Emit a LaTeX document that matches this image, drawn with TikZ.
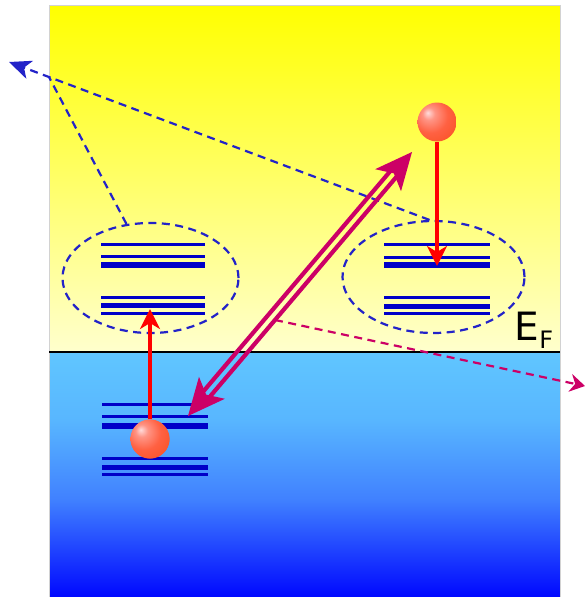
\documentclass[tikz,border=0pt]{standalone}
\usepackage{fontspec}
\newfontfamily\efont{DejaVu Sans}
\usetikzlibrary{arrows.meta,shapes.geometric,calc}
\definecolor{lvl}{RGB}{0,0,200}
\definecolor{dblue}{RGB}{35,35,200}
\definecolor{mag}{RGB}{204,0,102}
\definecolor{yelTop}{RGB}{255,255,0}
\definecolor{yelBot}{RGB}{255,255,205}
\definecolor{blA}{RGB}{96,198,255}
\definecolor{blB}{RGB}{88,182,255}
\definecolor{blC}{RGB}{64,128,255}
\definecolor{blD}{RGB}{0,8,255}
\pgfdeclareradialshading{myball}{\pgfpoint{-12bp}{12bp}}{rgb(0bp)=(1,0.86,0.86); rgb(8bp)=(1,0.58,0.52); rgb(22bp)=(1,0.38,0.26); rgb(45bp)=(0.97,0.3,0.1); rgb(70bp)=(0.93,0.28,0.02)}
\begin{document}
\begin{tikzpicture}[x=1pt,y=-1pt,
  lvlthin/.style={draw=lvl, line width=3pt},
  lvlmid/.style={draw=lvl, line width=5pt},
  lvlthick/.style={draw=lvl, line width=6.5pt},
  bubble/.style={ellipse, draw=dblue, line width=2.2pt, dash pattern=on 8pt off 5.5pt, inner sep=0pt},
  bdash/.style={draw=dblue, line width=2.2pt, dash pattern=on 8pt off 5.5pt},
  mdash/.style={draw=mag, line width=2.2pt, dash pattern=on 8pt off 5.5pt},
  redarr/.style={draw=red, line width=3.2pt, -{Stealth[length=20pt,width=20pt,inset=6pt]}},
  ballnode/.style={circle, minimum size=39pt, inner sep=0pt, shading=myball},
  dbl/.style={draw=mag, line width=4.2pt}]
\useasboundingbox (0,0) rectangle (587,597);
% backgrounds
\shade[top color=yelTop, bottom color=yelBot] (49,5) rectangle (560,352);
\shade[top color=blA, bottom color=blB] (49,352) rectangle (560,420.5);
\shade[top color=blB, bottom color=blC] (49,420) rectangle (560,500.5);
\shade[top color=blC, bottom color=blD] (49,500) rectangle (560,597);
\draw[gray!35, line width=0.8pt] (49,5) rectangle (560,597);
\draw[black, line width=2pt] (49,352) -- (560,352);
% levels, left group
\draw[lvlthin] (101,244) -- (205,244);
\draw[lvlthin] (101,256) -- (205,256);
\draw[lvlthick] (101,265) -- (205,265);
\draw[lvlthin] (101,297) -- (205,297);
\draw[lvlmid] (101,305) -- (205,305);
\draw[lvlthin] (101,313) -- (205,313);
% right group
\draw[lvlthin] (384,244) -- (490,244);
\draw[lvlthin] (384,257) -- (490,257);
\draw[lvlthick] (384,265) -- (490,265);
\draw[lvlthin] (384,297) -- (490,297);
\draw[lvlmid] (384,306) -- (490,306);
\draw[lvlthin] (384,313) -- (490,313);
% bottom group
\draw[lvlthin] (102,404) -- (208,404);
\draw[lvlthin] (102,416) -- (208,416);
\draw[lvlthick] (102,426) -- (208,426);
\draw[lvlthin] (102,458) -- (208,458);
\draw[lvlmid] (102,467) -- (208,467);
\draw[lvlthin] (102,474) -- (208,474);
% ellipses
\node[bubble, minimum width=176pt, minimum height=110pt] (L) at (150.5,278) {};
\node[bubble, minimum width=182pt, minimum height=112pt] (R) at (433.5,277) {};
% blue dashed lines
\coordinate (tipB) at (9,62);
\coordinate (J) at (49,77);
\draw[bdash, -{Stealth[length=22pt,width=19pt,inset=6pt]}] (R.94) -- (tipB);
\draw[bdash] (L.114) -- (J);
% double arrow
\coordinate (dA) at (188,416);
\coordinate (dB) at (412,152);
\coordinate (hbB) at ($(dB)!37pt!(dA)$);
\coordinate (hbA) at ($(dA)!37pt!(dB)$);
\fill[mag] (dB) -- ($(hbB)!17pt!90:(dB)$) -- ($(dB)!28pt!(dA)$) -- ($(hbB)!17pt!-90:(dB)$) -- cycle;
\fill[mag] (dA) -- ($(hbA)!17pt!90:(dA)$) -- ($(dA)!28pt!(dB)$) -- ($(hbA)!17pt!-90:(dA)$) -- cycle;
\coordinate (a1) at ($(dA)!27pt!(dB)$);
\coordinate (b1) at ($(dB)!27pt!(dA)$);
\draw[dbl] ($(a1)!4.2pt!90:(dB)$) -- ($(b1)!4.2pt!-90:(dA)$);
\draw[dbl] ($(a1)!4.2pt!-90:(dB)$) -- ($(b1)!4.2pt!90:(dA)$);
% magenta dashed
\coordinate (m0) at (275,320);
\coordinate (m1) at (585,386);
\draw[mdash, -{Stealth[length=15pt,width=18pt,inset=5pt]}] (m0) -- (m1);
% balls and red arrows
\node[ballnode] (ballT) at (437,122) {};
\node[ballnode] (ballB) at (150,439) {};
\coordinate (r1) at (437,266);
\coordinate (u1) at (150,309);
\draw[redarr] (ballT.south) -- (r1);
\draw[redarr] (ballB.north) -- (u1);
\node[ballnode] at (ballB) {};
% label
\node[anchor=base west, inner sep=0pt] (ef) at (514,340) {\efont\fontsize{39}{39}\selectfont E\kern0.5pt\raisebox{-8pt}{\fontsize{24}{24}\selectfont F}};
\end{tikzpicture}
\end{document}
